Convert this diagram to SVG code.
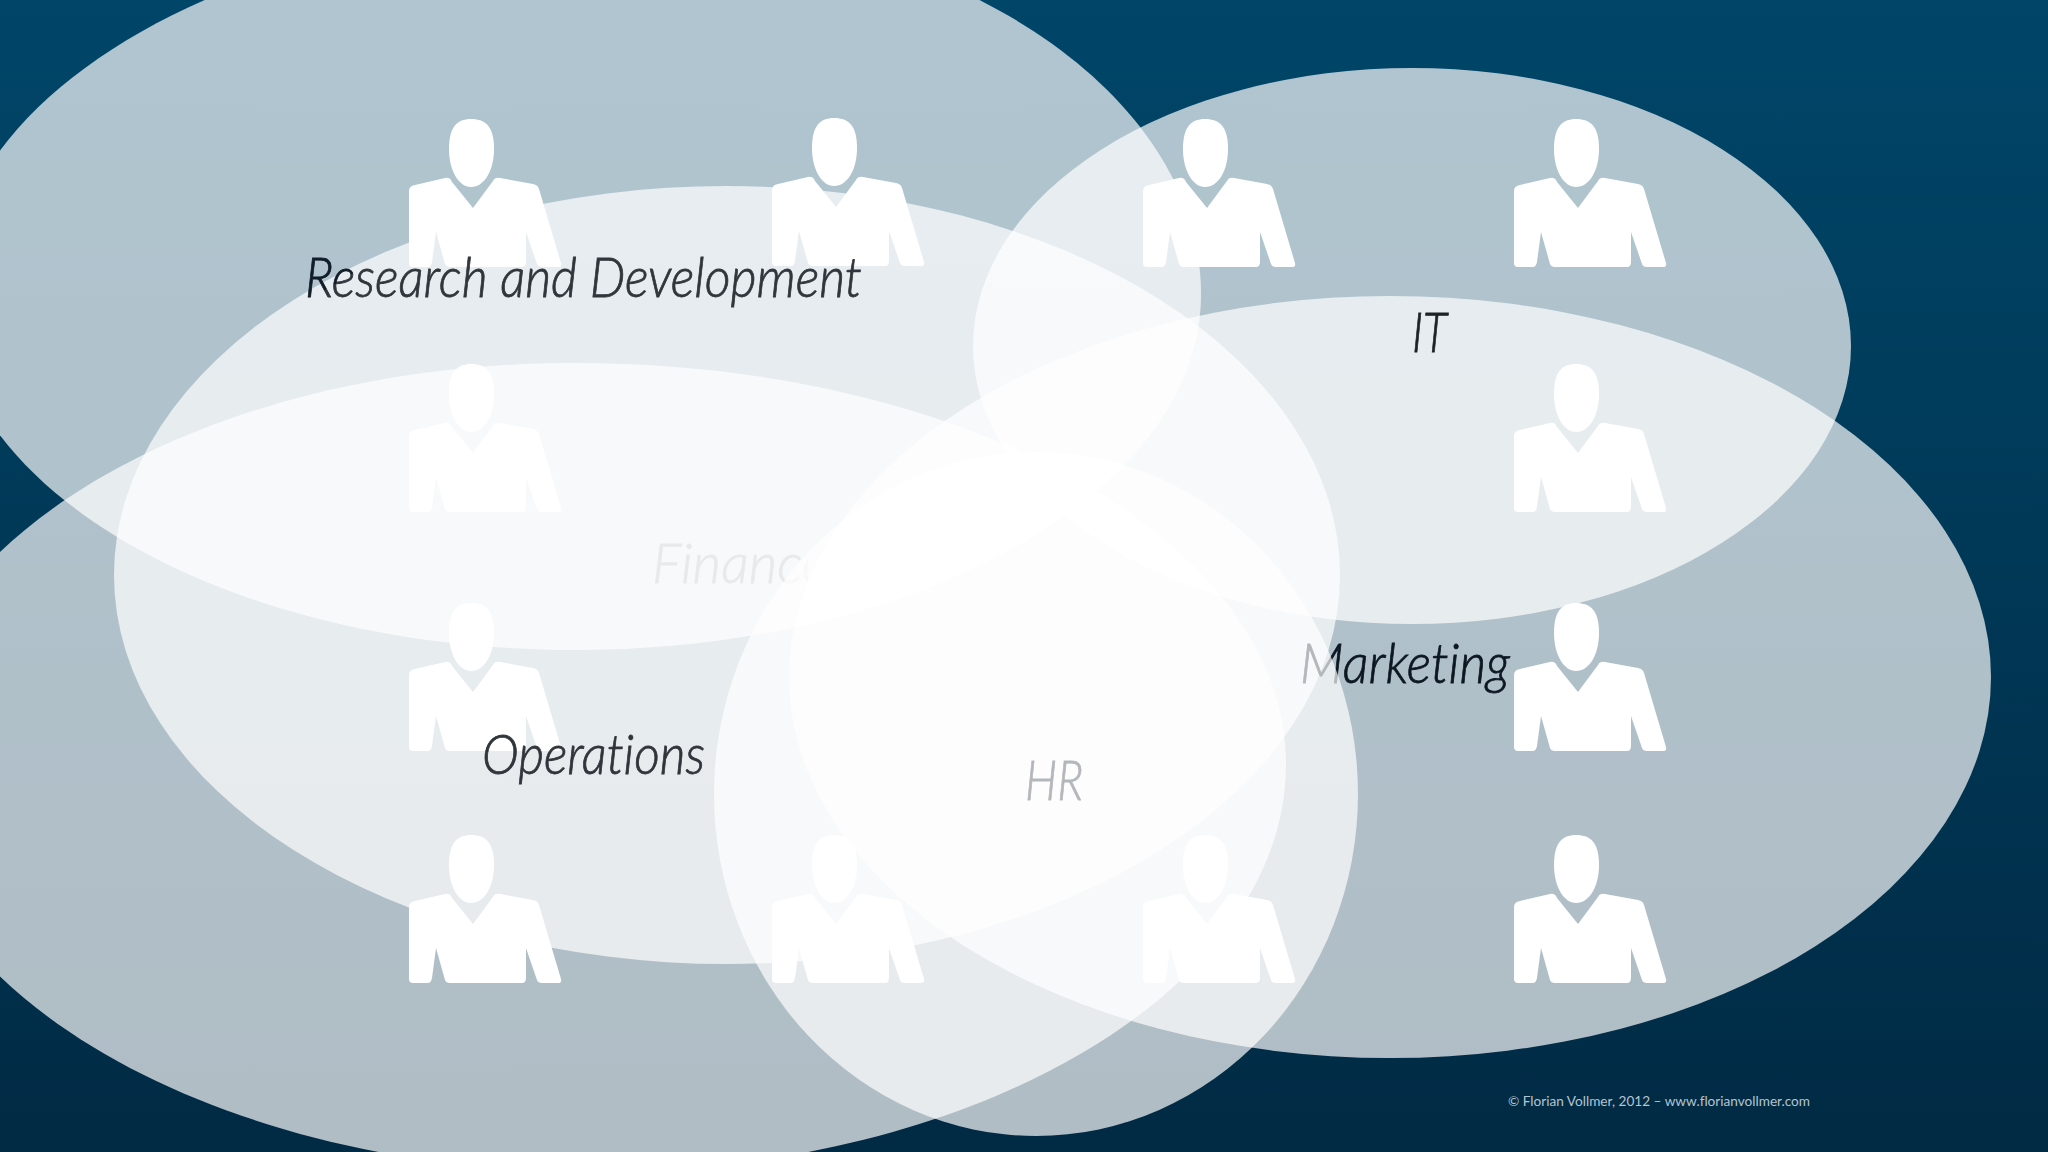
<svg xmlns="http://www.w3.org/2000/svg" xmlns:xlink="http://www.w3.org/1999/xlink" width="2048" height="1152" viewBox="0 0 2048 1152">
<style>
.blob{fill:#fff;fill-opacity:.69}
.lbl{font-family:"Lato","Open Sans","Liberation Sans",sans-serif;font-style:italic;font-size:55px;font-weight:300;font-variant-ligatures:none;stroke-width:.8}
.foot{font-family:"Lato","Open Sans","Liberation Sans",sans-serif;font-size:14px;fill:#b3c5d2;font-variant-ligatures:none}
.person{fill:#fff}
</style>
<defs>
<linearGradient id="bg" x1="0" y1="0" x2="0" y2="1"><stop offset="0" stop-color="#004669"/><stop offset="1" stop-color="#012a44"/></linearGradient>
<linearGradient id="rd" gradientUnits="userSpaceOnUse" x1="299" y1="189" x2="401" y2="361"><stop offset=".5" stop-color="#101c28"/><stop offset=".5" stop-color="#30353b"/></linearGradient>
<linearGradient id="fi" gradientUnits="userSpaceOnUse" x1="700" y1="0" x2="900" y2="0"><stop offset=".54" stop-color="#0c1722"/><stop offset=".54" stop-color="#0c1722" stop-opacity="0"/></linearGradient>
<g id="p">
<path d="M40 30C40 8 48 0 62 0C77 0 85 8 85 30C85 52 75 68 62 68C50 68 40 52 40 30Z"/>
<path d="M0 72Q0 67 6 66L36 59Q41 58 43 63L64 89L84 62Q86 58 91 59L124 65Q129 66 130 70L152 144Q153 148 149 148L133 148Q129 148 128 145L117 113L117 143Q117 148 113 148L41 148Q37 148 36 145L27 113L23 143Q22 148 19 148L4 148Q0 148 0 144Z"/>
</g>
</defs>
<rect id="background" width="2048" height="1152" fill="url(#bg)"/>
<g id="people" class="person">
<use xlink:href="#p" href="#p" x="409" y="119"/><use xlink:href="#p" href="#p" x="772" y="118"/><use xlink:href="#p" href="#p" x="1143" y="119"/><use xlink:href="#p" href="#p" x="1514" y="119"/>
<use xlink:href="#p" href="#p" x="409" y="364"/><use xlink:href="#p" href="#p" x="1514" y="364"/>
<use xlink:href="#p" href="#p" x="409" y="603"/><use xlink:href="#p" href="#p" x="1514" y="603"/>
<use xlink:href="#p" href="#p" x="409" y="835"/><use xlink:href="#p" href="#p" x="772" y="835"/><use xlink:href="#p" href="#p" x="1143" y="835"/><use xlink:href="#p" href="#p" x="1514" y="835"/>
</g>
<g id="finance"><ellipse class="blob" cx="727" cy="575" rx="613" ry="389"/></g>
<g id="marketing"><ellipse class="blob" cx="1390" cy="677" rx="601" ry="381"/>
<text class="lbl" x="1300" y="683" textLength="210" lengthAdjust="spacingAndGlyphs" fill="#0c1722" stroke="#0c1722">Marketing</text></g>
<g id="finance-label"><text class="lbl" x="652" y="583" textLength="176" lengthAdjust="spacingAndGlyphs" fill="url(#fi)" stroke="url(#fi)">Finance</text></g>
<g id="hr"><ellipse class="blob" cx="1036" cy="794" rx="322" ry="342"/>
<text class="lbl" x="1025" y="800" textLength="58" lengthAdjust="spacingAndGlyphs" fill="#0c1722" stroke="#0c1722">HR</text></g>
<g id="operations"><path class="blob" d="M575 363C968 363 1286 542 1286 764C1286 989 976 1172 594 1172C210 1172 -102 989 -102 764C-102 542 201 363 575 363Z"/>
<text class="lbl" x="482" y="774" textLength="223" lengthAdjust="spacingAndGlyphs" fill="#30353b" stroke="#30353b">Operations</text></g>
<g id="research"><path class="blob" d="M620 -80C941 -80 1201 87 1201 294C1201 491 921 650 575 650C229 650 -51 491 -51 294C-51 87 249 -80 620 -80Z"/>
<text class="lbl" x="305" y="297" textLength="557" lengthAdjust="spacingAndGlyphs" fill="url(#rd)" stroke="url(#rd)">Research and Development</text></g>
<g id="it"><ellipse class="blob" cx="1412" cy="346" rx="439" ry="278"/>
<text class="lbl" x="1412" y="352" textLength="35" lengthAdjust="spacingAndGlyphs" fill="#1c2228" stroke="#1c2228">IT</text></g>
<text id="credit" class="foot" x="1508" y="1106" textLength="302" lengthAdjust="spacingAndGlyphs">© Florian Vollmer, 2012 – www.florianvollmer.com</text>
</svg>
